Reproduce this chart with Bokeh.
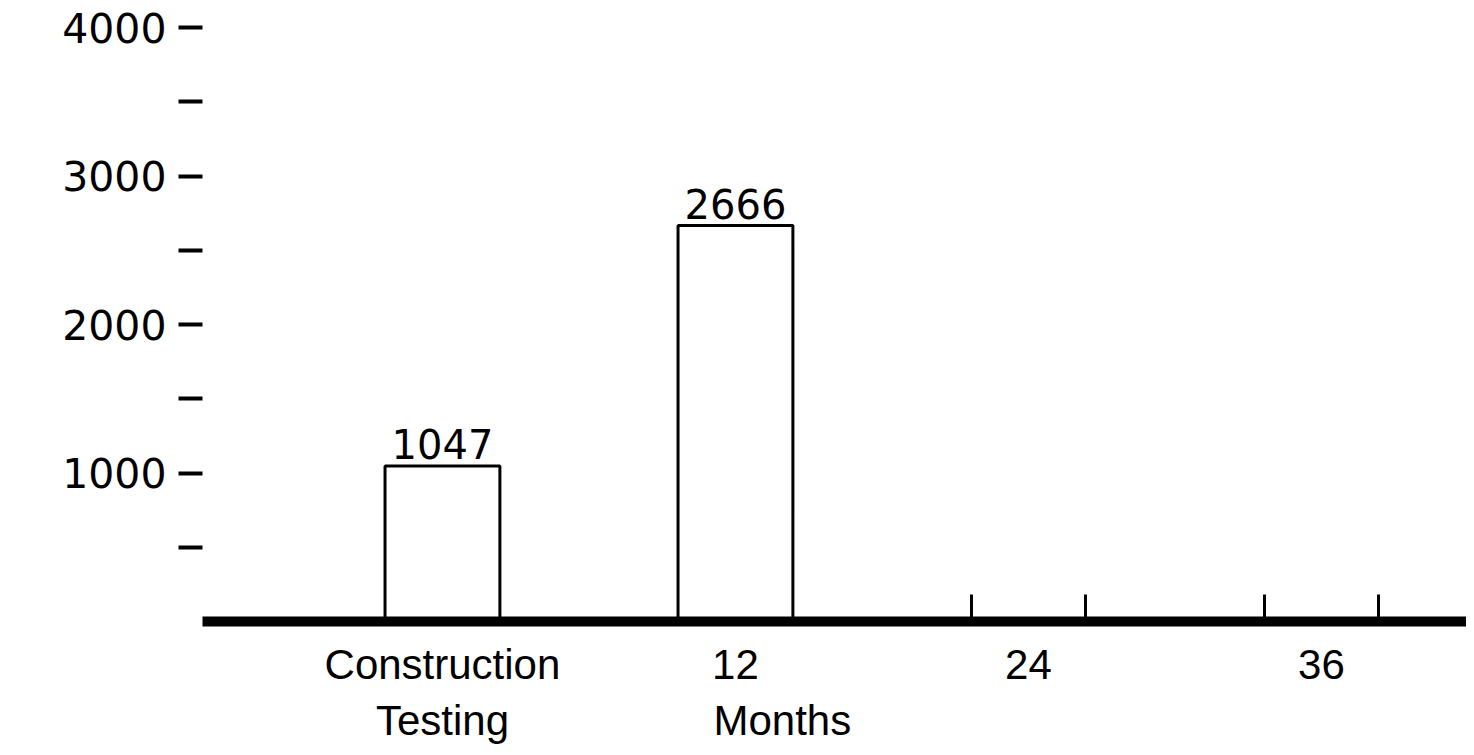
from bokeh.plotting import figure
from bokeh.models import ColumnDataSource, FixedTicker, LinearAxis, Range1d
from bokeh.core.properties import value
from bokeh.embed import file_html
from bokeh.resources import INLINE

# data
categories = ["Construction", "12", "24", "36"]
category_second_line = ["Testing", "Months"]
bar_values = [1047, 2666]
y_ticks = [1000, 2000, 3000, 4000]
y_minor_ticks = [500, 1500, 2500, 3500]

slots = list(range(len(categories)))
bar_w = 0.392

src = ColumnDataSource(data=dict(
    x=slots[:len(bar_values)],
    top=bar_values,
    label=[str(v) for v in bar_values],
))

p = figure(width=1466, height=747, output_backend="svg", toolbar_location=None, tools="",
           x_range=Range1d(-0.819, 3.495), y_range=Range1d(0, 4000),
           min_border_left=202, min_border_right=0, min_border_top=27, min_border_bottom=126)
p.xgrid.grid_line_color = None
p.ygrid.grid_line_color = None
p.outline_line_color = None
p.background_fill_color = "white"
p.border_fill_color = "white"

# bars
p.vbar(x="x", top="top", bottom=0, width=bar_w, source=src,
       fill_color="white", line_color="black", line_width=3)
p.text(x="x", y="top", text="label", source=src, y_offset=-7,
       text_align="center", text_baseline="bottom", text_color="black",
       text_font=value("DejaVu Sans"), text_font_size="40px")

# y axis: dashes only, no line
yax = p.yaxis[0]
yax.ticker = FixedTicker(ticks=y_ticks, minor_ticks=y_minor_ticks)
yax.axis_line_color = None
yax.major_tick_in = 0
yax.major_tick_out = 24
yax.minor_tick_in = 0
yax.minor_tick_out = 24
yax.major_tick_line_width = 4
yax.minor_tick_line_width = 4
yax.major_label_standoff = 12
yax.major_label_text_font = "DejaVu Sans"
yax.major_label_text_font_size = "41px"
yax.major_label_text_color = "black"

# x axis: heavy baseline, small upright marks at the empty slots
edges = []
for s in slots[len(bar_values):]:
    edges += [s - bar_w / 2, s + bar_w / 2]
xax = p.xaxis[0]
xax.ticker = FixedTicker(ticks=slots, minor_ticks=edges)
xax.major_label_overrides = {s: c for s, c in zip(slots, categories)}
xax.axis_line_width = 10
xax.axis_line_color = "black"
xax.major_tick_in = 0
xax.major_tick_out = 0
xax.minor_tick_in = 27
xax.minor_tick_out = 0
xax.minor_tick_line_width = 3
xax.major_label_standoff = 19
xax.major_label_text_font = "Liberation Sans"
xax.major_label_text_font_size = "42px"
xax.major_label_text_color = "black"

# second line of the category labels, as a bare axis stacked underneath
second_pos = [0, 1.16]
ax2 = LinearAxis(ticker=FixedTicker(ticks=second_pos, minor_ticks=[]),
                 major_label_overrides={s: t for s, t in zip(second_pos, category_second_line)},
                 axis_line_color=None, major_tick_line_color=None, minor_tick_line_color=None,
                 major_label_standoff=0, major_label_text_font="Liberation Sans",
                 major_label_text_font_size="42px", major_label_text_color="black")
p.add_layout(ax2, "below")

open("out.html", "w").write(file_html(p, INLINE))
